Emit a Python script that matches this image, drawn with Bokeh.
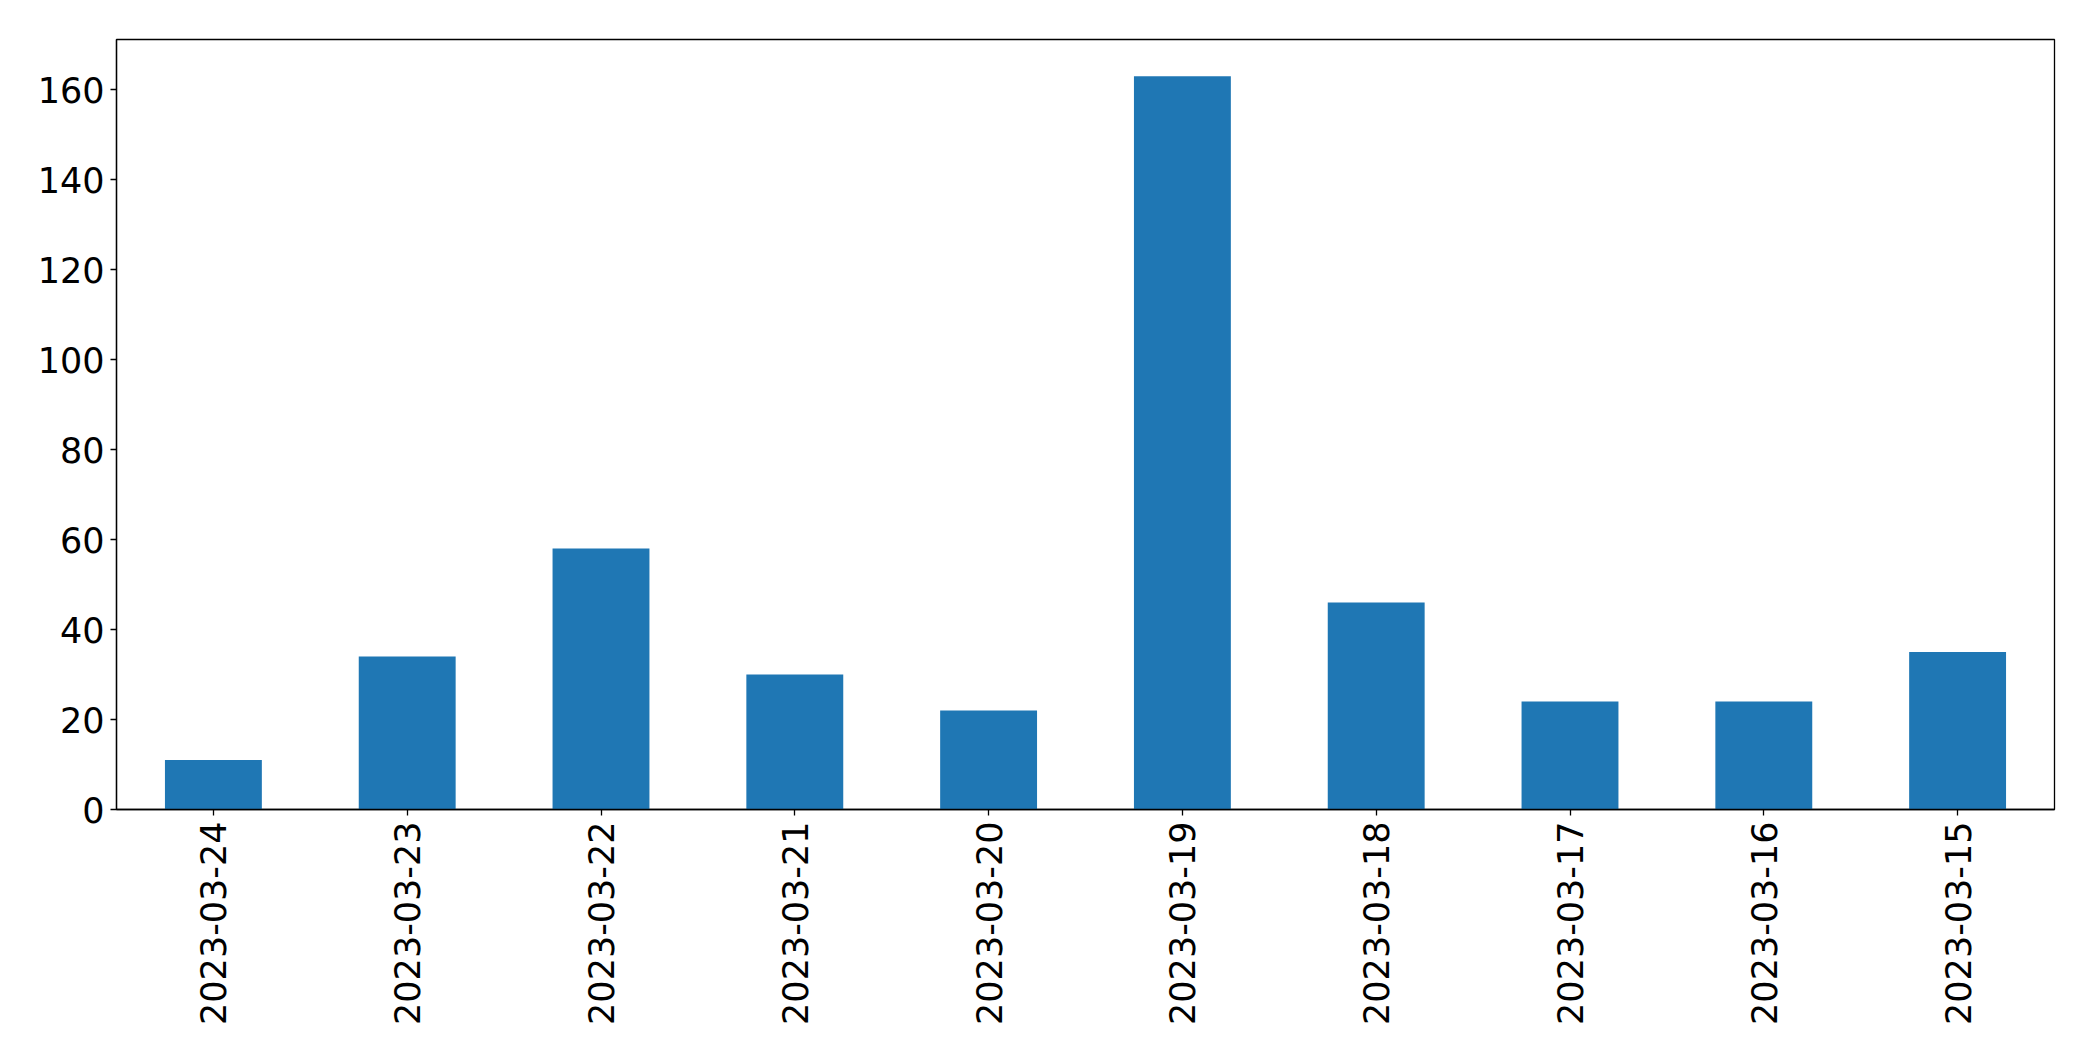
import math
from bokeh.plotting import figure
from bokeh.models import FactorRange, Range1d, FixedTicker, ColumnDataSource
from bokeh.embed import file_html
from bokeh.resources import INLINE

dates = ["2023-03-24", "2023-03-23", "2023-03-22", "2023-03-21", "2023-03-20",
         "2023-03-19", "2023-03-18", "2023-03-17", "2023-03-16", "2023-03-15"]
counts = [11, 34, 58, 30, 22, 163, 46, 24, 24, 35]
y_ticks = [0, 20, 40, 60, 80, 100, 120, 140, 160]

src = ColumnDataSource(dict(x=dates, top=counts))

p = figure(x_range=FactorRange(*dates), y_range=Range1d(0, max(counts) * 1.05),
           frame_width=1938, frame_height=770,
           min_border_left=116, min_border_top=39, min_border_right=31, min_border_bottom=236,
           output_backend="svg", toolbar_location=None)
p.vbar(x="x", top="top", width=0.5, source=src, color="#1f77b4", line_color=None)

p.xgrid.grid_line_color = None
p.ygrid.grid_line_color = None
p.outline_line_color = "black"
p.outline_line_width = 1.3
p.outline_line_alpha = 1.0
p.x_range.range_padding = 0

for ax in (p.xaxis[0], p.yaxis[0]):
    ax.major_label_text_font = "DejaVu Sans"
    ax.major_label_text_font_size = "35px"
    ax.major_label_text_color = "black"
    ax.axis_line_color = "black"
    ax.axis_line_width = 1.3
    ax.major_tick_line_color = "black"
    ax.major_tick_line_width = 1.3
    ax.major_tick_out = 6
    ax.major_tick_in = 0
    ax.minor_tick_line_color = None

p.yaxis[0].ticker = FixedTicker(ticks=y_ticks)
p.yaxis[0].major_label_standoff = 6
p.xaxis[0].major_label_orientation = math.pi / 2
p.xaxis[0].major_label_standoff = 6

open("out.html", "w").write(file_html(p, INLINE))
